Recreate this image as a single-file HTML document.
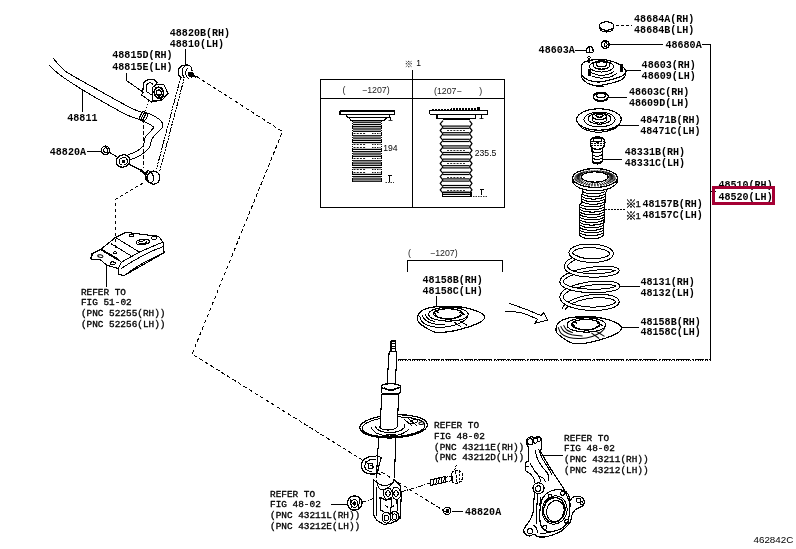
<!DOCTYPE html>
<html><head><meta charset="utf-8"><title>48520 front spring &amp; shock absorber</title>
<style>
html,body{margin:0;padding:0;background:#fff;}
body{width:796px;height:549px;overflow:hidden;}
svg{display:block;}
svg *{stroke:#000;}
text{stroke:none;fill:#000;}
.m{font-family:"Liberation Mono",monospace;font-weight:bold;font-size:10.8px;}
.r{font-family:"Liberation Mono",monospace;font-weight:normal;font-size:9.4px;stroke:#000;stroke-width:0.32px;}
.s8{font-family:"Liberation Sans","Noto Sans CJK JP",sans-serif;font-size:8.5px;}
.s8b{font-family:"Liberation Sans",sans-serif;font-size:8.6px;}
.s9{font-family:"Liberation Sans",sans-serif;font-size:8.8px;fill:#222;}
.s9k{font-family:"Liberation Sans","Noto Sans CJK JP",sans-serif;font-size:9.5px;}
.k10{font-family:"Liberation Sans","Noto Sans CJK JP",sans-serif;font-size:11px;stroke:#000;stroke-width:0.3px;}
.b1{font-family:"Liberation Sans",sans-serif;font-size:9.6px;stroke:#000;stroke-width:0.25px;}
.k9{font-family:"Liberation Sans","Noto Sans CJK JP",sans-serif;font-size:8.5px;}
.s10{font-family:"Liberation Sans",sans-serif;font-size:9.8px;}
</style></head>
<body>
<svg width="796" height="549" viewBox="0 0 796 549" fill="none" stroke-linecap="butt" stroke-linejoin="round" shape-rendering="crispEdges">
<rect x="0" y="0" width="796" height="549" fill="#fff" style="stroke:none"/>
<line x1="185.5" y1="48.5" x2="185.5" y2="65.0" stroke-width="1"/>
<path d="M126.5,73.0 L126.5,80.5 L144.3,93.0" stroke-width="1" fill="none"/>
<line x1="82.5" y1="90.0" x2="82.5" y2="111.5" stroke-width="1"/>
<line x1="86.6" y1="151.5" x2="101.5" y2="151.5" stroke-width="1"/>
<line x1="106.5" y1="266.0" x2="106.5" y2="286.7" stroke-width="1"/>
<line x1="615.5" y1="25.5" x2="632.0" y2="25.5" stroke-width="1" stroke-dasharray="3 2"/>
<line x1="609.0" y1="44.5" x2="663.0" y2="44.5" stroke-width="1"/>
<path d="M702.0,44.5 L710.5,44.5 L710.5,361.0" stroke-width="1" fill="none"/>
<line x1="575.0" y1="50.5" x2="586.0" y2="50.5" stroke-width="1"/>
<line x1="625.0" y1="70.5" x2="640.5" y2="70.5" stroke-width="1"/>
<line x1="608.5" y1="97.5" x2="626.7" y2="97.5" stroke-width="1"/>
<line x1="619.0" y1="125.5" x2="639.0" y2="125.5" stroke-width="1"/>
<line x1="602.5" y1="159.5" x2="622.0" y2="159.5" stroke-width="1"/>
<line x1="605.0" y1="209.5" x2="624.5" y2="209.5" stroke-width="1" stroke-dasharray="1.5 1.5"/>
<line x1="619.2" y1="286.5" x2="639.5" y2="286.5" stroke-width="1"/>
<line x1="621.4" y1="327.5" x2="639.0" y2="327.5" stroke-width="1"/>
<line x1="710.5" y1="191.5" x2="716.0" y2="191.5" stroke-width="1"/>
<line x1="397.5" y1="359.5" x2="710.5" y2="359.5" stroke-width="1" stroke-dasharray="9 1 3 1 14 2 2 1"/>
<line x1="397.5" y1="360.5" x2="708.0" y2="360.5" stroke-width="1" stroke-dasharray="1 1.4"/>
<line x1="436.5" y1="296.0" x2="436.5" y2="307.4" stroke-width="1"/>
<path d="M407.5,272.3 L407.5,260.5 L502.5,260.5 L502.5,272.3" stroke-width="1" fill="none"/>
<line x1="330.7" y1="504.5" x2="347.5" y2="504.5" stroke-width="1"/>
<line x1="452.0" y1="511.5" x2="463.0" y2="511.5" stroke-width="1"/>
<line x1="541.0" y1="455.5" x2="562.6" y2="455.5" stroke-width="1"/>
<rect x="320.5" y="79.5" width="184.0" height="128.0" stroke-width="1" fill="none"/>
<line x1="320.5" y1="98.5" x2="504.5" y2="98.5" stroke-width="1"/>
<line x1="412.5" y1="70.0" x2="412.5" y2="207.5" stroke-width="1"/>
<path d="M196.3,76.3 L282.5,131.6 L192.1,354.0 L446.8,512.6" stroke-width="1" fill="none" stroke-dasharray="4 2.5"/>
<line x1="143.5" y1="119.0" x2="143.5" y2="168.0" stroke-width="1" stroke-dasharray="3.5 2.5"/>
<path d="M143.5,182.8 L115.5,199.2 L115.5,250.0" stroke-width="1" fill="none" stroke-dasharray="3.5 2.5"/>
<line x1="149.0" y1="101.0" x2="145.0" y2="113.0" stroke-width="1" stroke-dasharray="1.5 1.5"/>
<path d="M53.0,58.0 C54.2,59.3 57.5,63.5 60.0,66.0 C62.5,68.5 61.3,68.8 68.0,73.0 C74.7,77.2 89.7,85.2 100.0,91.0 C110.3,96.8 123.2,104.0 130.0,107.5 C136.8,111.0 139.2,111.2 141.0,112.0" stroke-width="1" fill="none"/>
<path d="M49.0,65.0 C50.8,66.7 54.5,70.9 60.0,75.0 C65.5,79.1 74.5,84.8 82.0,89.5 C89.5,94.2 97.8,98.9 105.0,103.0 C112.2,107.1 119.3,111.2 125.0,114.0 C130.7,116.8 136.7,118.6 139.0,119.5" stroke-width="1" fill="none"/>
<ellipse cx="142.5" cy="116.0" rx="2.2" ry="4.6" stroke-width="1.3" fill="none" transform="rotate(25 142.5 116.0)"/>
<ellipse cx="144.5" cy="117.0" rx="2.2" ry="4.6" stroke-width="1" fill="none" transform="rotate(25 144.5 117.0)"/>
<path d="M146.0,112.5 C147.3,113.1 151.5,114.6 154.0,116.0 C156.5,117.4 159.6,119.2 161.0,121.0 C162.4,122.8 163.2,125.0 162.5,127.0 C161.8,129.0 158.8,131.0 157.0,133.0 C155.2,135.0 153.3,136.5 152.0,139.0 C150.7,141.5 150.8,145.3 149.0,148.0 C147.2,150.7 144.2,153.0 141.0,155.0 C137.8,157.0 131.8,159.2 130.0,160.0" stroke-width="1" fill="none"/>
<path d="M143.0,121.0 C144.2,121.6 148.2,123.4 150.0,124.5 C151.8,125.6 153.5,126.2 153.5,127.5 C153.5,128.8 151.3,130.4 150.0,132.0 C148.7,133.6 146.7,134.7 145.5,137.0 C144.3,139.3 144.4,143.7 143.0,146.0 C141.6,148.3 139.5,149.5 137.0,151.0 C134.5,152.5 129.5,154.3 128.0,155.0" stroke-width="1" fill="none"/>
<line x1="151.0" y1="130.5" x2="154.0" y2="127.0" stroke-width="1"/>
<ellipse cx="123.0" cy="161.0" rx="7.0" ry="6.0" stroke-width="1.3" fill="none" transform="rotate(-25 123.0 161.0)"/>
<ellipse cx="123.3" cy="161.3" rx="4.2" ry="3.6" stroke-width="1" fill="none" transform="rotate(-25 123.3 161.3)"/>
<ellipse cx="123.5" cy="161.5" rx="1.2" ry="1.0" stroke-width="1" fill="#000" transform="rotate(-25 123.5 161.5)"/>
<line x1="128.5" y1="164.0" x2="143.5" y2="171.5" stroke-width="1"/>
<ellipse cx="105.4" cy="150.3" rx="4.0" ry="4.2" stroke-width="1.3" fill="none"/>
<ellipse cx="105.8" cy="150.3" rx="2.0" ry="2.6" stroke-width="1" fill="none"/>
<line x1="109.0" y1="152.0" x2="117.0" y2="157.0" stroke-width="1"/>
<path d="M142.5,93.7 L143.8,82.3 L147.0,80.2 L151.7,79.2 L155.0,80.3 L157.0,82.3 L156.5,84.6" stroke-width="1.2" fill="none"/>
<path d="M146.3,91.5 C146.4,90.4 146.0,86.5 146.6,85.0 C147.2,83.5 148.7,82.9 149.8,82.8 C150.9,82.7 152.5,84.0 153.0,84.3" stroke-width="1" fill="none"/>
<path d="M152.6,87.5 L156.0,84.5 L164.0,84.9 L168.0,93.3 L162.3,99.9 L152.6,100.9 Z" stroke-width="1.2" fill="none"/>
<path d="M142.5,93.7 L141.2,94.8 L151.5,102.0 L162.3,99.9" stroke-width="1.1" fill="none"/>
<line x1="146.3" y1="91.5" x2="152.6" y2="95.5" stroke-width="1"/>
<ellipse cx="158.9" cy="92.8" rx="4.6" ry="5.6" stroke-width="1.7" fill="none" transform="rotate(-12 158.9 92.8)"/>
<ellipse cx="159.0" cy="93.0" rx="2.3" ry="3.0" stroke-width="1.3" fill="none" transform="rotate(-12 159.0 93.0)"/>
<ellipse cx="159.6" cy="95.3" rx="0.9" ry="0.9" stroke-width="1" fill="#000"/>
<path d="M184.5,65.3 C183.8,65.5 181.5,65.6 180.5,66.5 C179.5,67.4 178.6,69.1 178.3,70.5 C178.0,71.9 178.3,73.8 178.8,75.0 C179.3,76.2 181.1,77.3 181.5,77.8" stroke-width="1.3" fill="none"/>
<path d="M188.5,65.3 C187.8,65.5 185.5,65.5 184.5,66.3 C183.5,67.1 182.6,68.8 182.3,70.3 C182.0,71.8 182.4,73.7 182.8,75.0 C183.2,76.3 184.3,77.8 184.6,78.4" stroke-width="1.1" fill="none"/>
<path d="M184.5,65.3 C185.2,65.3 187.4,64.8 188.5,65.2 C189.6,65.6 190.7,66.5 191.3,67.5 C191.9,68.5 192.0,70.4 192.2,71.0" stroke-width="1.2" fill="none"/>
<path d="M187.5,68.5 C187.2,69.1 186.0,70.7 185.8,72.0 C185.6,73.3 186.0,75.4 186.5,76.5 C187.0,77.6 188.6,78.2 189.0,78.5" stroke-width="1" fill="none"/>
<ellipse cx="191.0" cy="74.6" rx="3.0" ry="2.3" stroke-width="1" fill="#000" transform="rotate(25 191.0 74.6)"/>
<line x1="192.5" y1="75.2" x2="196.6" y2="77.2" stroke-width="2"/>
<line x1="180.5" y1="78.0" x2="156.5" y2="169.0" stroke-width="1" stroke-dasharray="2.2 0.7"/>
<line x1="184.0" y1="79.0" x2="159.5" y2="172.0" stroke-width="1" stroke-dasharray="2.2 0.7"/>
<ellipse cx="153.6" cy="177.6" rx="6.2" ry="6.6" stroke-width="1.2" fill="none"/>
<ellipse cx="149.6" cy="176.6" rx="3.6" ry="6.0" stroke-width="1.1" fill="none" transform="rotate(-22 149.6 176.6)"/>
<path d="M147.5,171.5 C147.2,172.1 145.8,173.7 145.6,175.0 C145.4,176.3 145.8,178.2 146.4,179.5 C147.0,180.8 148.6,182.0 149.0,182.5" stroke-width="1.8" fill="none"/>
<line x1="140.8" y1="170.2" x2="146.0" y2="175.0" stroke-width="2.4"/>
<path d="M115.5,237.4 L125.7,232.3 L158.5,236.3 L163.0,242.0 L164.2,252.7 L124.6,275.3 L118.9,274.8 L118.4,268.5 L106.5,265.1 L100.8,260.0 L90.7,258.9 L92.9,253.3 L100.8,249.3 Z" stroke-width="1.1" fill="none"/>
<path d="M115.5,237.4 L139.3,252.1 L163.0,242.0" stroke-width="1" fill="none"/>
<path d="M139.3,252.1 L121.2,262.3" stroke-width="1" fill="none"/>
<line x1="111.0" y1="243.7" x2="132.5" y2="256.7" stroke-width="1"/>
<line x1="100.8" y1="249.3" x2="118.9" y2="260.0" stroke-width="2"/>
<path d="M118.9,260.0 L121.2,262.3 L118.4,268.5" stroke-width="1" fill="none"/>
<path d="M121.0,268.5 C123.3,267.1 130.2,262.8 135.0,260.0 C139.8,257.2 145.2,254.2 150.0,252.0 C154.8,249.8 161.2,247.4 163.5,246.5" stroke-width="1" fill="none"/>
<path d="M124.6,275.3 C126.8,273.8 133.4,268.8 138.0,266.0 C142.6,263.2 147.6,260.7 152.0,258.5 C156.4,256.3 162.2,253.7 164.2,252.7" stroke-width="1" fill="none"/>
<line x1="90.7" y1="258.9" x2="91.5" y2="253.5" stroke-width="1"/>
<ellipse cx="142.7" cy="242.0" rx="6.6" ry="2.5" stroke-width="1.2" fill="none" transform="rotate(-6 142.7 242.0)"/>
<ellipse cx="142.7" cy="242.2" rx="4.0" ry="1.2" stroke-width="1" fill="none" transform="rotate(-6 142.7 242.2)"/>
<ellipse cx="131.4" cy="235.7" rx="2.4" ry="1.1" stroke-width="1" fill="none"/>
<ellipse cx="154.0" cy="238.0" rx="2.6" ry="1.3" stroke-width="1" fill="none"/>
<ellipse cx="100.3" cy="256.1" rx="2.6" ry="1.3" stroke-width="1" fill="none" transform="rotate(10 100.3 256.1)"/>
<ellipse cx="112.7" cy="263.4" rx="2.6" ry="1.5" stroke-width="1" fill="none"/>
<ellipse cx="115.0" cy="252.7" rx="1.8" ry="1.0" stroke-width="1" fill="none"/>
<rect x="340.0" y="111.0" width="54.5" height="3.6" stroke-width="1.2" fill="none"/>
<path d="M346.0,114.6 L347.5,117.3 L389.0,117.3 L390.0,114.6" stroke-width="1.2" fill="none"/>
<path d="M348.5,117.3 L351.0,120.3 L384.0,120.3 L387.0,117.3" stroke-width="1.2" fill="none"/>
<g shape-rendering="geometricPrecision">
<line x1="353.0" y1="122.2" x2="381.0" y2="122.2" stroke-width="1.3"/>
<line x1="353.0" y1="124.5" x2="381.0" y2="124.5" stroke-width="1.3"/>
<line x1="353.0" y1="126.7" x2="381.0" y2="126.7" stroke-width="1.3"/>
<line x1="353.0" y1="129.0" x2="381.0" y2="129.0" stroke-width="1.3"/>
<line x1="353.0" y1="131.3" x2="381.0" y2="131.3" stroke-width="1.3"/>
<line x1="353.5" y1="133.5" x2="366.0" y2="133.5" stroke-width="0.9" stroke-dasharray="2 1.2"/>
<line x1="372.0" y1="133.5" x2="380.5" y2="133.5" stroke-width="0.9" stroke-dasharray="1.5 1"/>
<line x1="353.0" y1="135.8" x2="381.0" y2="135.8" stroke-width="1.3"/>
<line x1="353.0" y1="138.1" x2="381.0" y2="138.1" stroke-width="1.3"/>
<line x1="353.0" y1="140.4" x2="381.0" y2="140.4" stroke-width="1.3"/>
<line x1="353.0" y1="142.6" x2="381.0" y2="142.6" stroke-width="1.3"/>
<line x1="353.5" y1="144.5" x2="366.0" y2="144.5" stroke-width="0.9" stroke-dasharray="2 1.2"/>
<line x1="372.0" y1="144.5" x2="380.5" y2="144.5" stroke-width="0.9" stroke-dasharray="1.5 1"/>
<line x1="353.5" y1="147.5" x2="366.0" y2="147.5" stroke-width="0.9" stroke-dasharray="2 1.2"/>
<line x1="372.0" y1="147.5" x2="380.5" y2="147.5" stroke-width="0.9" stroke-dasharray="1.5 1"/>
<line x1="353.0" y1="149.4" x2="381.0" y2="149.4" stroke-width="1.3"/>
<line x1="353.0" y1="151.7" x2="381.0" y2="151.7" stroke-width="1.3"/>
<line x1="353.0" y1="154.0" x2="381.0" y2="154.0" stroke-width="1.3"/>
<line x1="353.0" y1="156.3" x2="381.0" y2="156.3" stroke-width="1.3"/>
<line x1="353.5" y1="158.5" x2="366.0" y2="158.5" stroke-width="0.9" stroke-dasharray="2 1.2"/>
<line x1="372.0" y1="158.5" x2="380.5" y2="158.5" stroke-width="0.9" stroke-dasharray="1.5 1"/>
<line x1="353.0" y1="160.8" x2="381.0" y2="160.8" stroke-width="1.3"/>
<line x1="353.0" y1="163.1" x2="381.0" y2="163.1" stroke-width="1.3"/>
<line x1="353.0" y1="165.3" x2="381.0" y2="165.3" stroke-width="1.3"/>
<line x1="353.0" y1="167.6" x2="381.0" y2="167.6" stroke-width="1.3"/>
<line x1="353.5" y1="169.5" x2="366.0" y2="169.5" stroke-width="0.9" stroke-dasharray="2 1.2"/>
<line x1="372.0" y1="169.5" x2="380.5" y2="169.5" stroke-width="0.9" stroke-dasharray="1.5 1"/>
<line x1="353.5" y1="172.5" x2="366.0" y2="172.5" stroke-width="0.9" stroke-dasharray="2 1.2"/>
<line x1="372.0" y1="172.5" x2="380.5" y2="172.5" stroke-width="0.9" stroke-dasharray="1.5 1"/>
<line x1="353.0" y1="174.4" x2="381.0" y2="174.4" stroke-width="1.3"/>
<line x1="353.0" y1="176.7" x2="381.0" y2="176.7" stroke-width="1.3"/>
<line x1="353.0" y1="179.0" x2="381.0" y2="179.0" stroke-width="1.3"/>
<line x1="353.0" y1="181.2" x2="381.0" y2="181.2" stroke-width="1.3"/>
</g>
<line x1="352.5" y1="120.5" x2="352.5" y2="183.0" stroke-width="1" stroke-dasharray="1.6 0.7"/>
<line x1="381.5" y1="120.5" x2="381.5" y2="183.0" stroke-width="1" stroke-dasharray="1.6 0.7"/>
<line x1="390.5" y1="117.0" x2="390.5" y2="120.0" stroke-width="1.6"/>
<line x1="388.5" y1="120.5" x2="392.5" y2="120.5" stroke-width="0.8"/>
<line x1="389.5" y1="175.5" x2="389.5" y2="181.5" stroke-width="1.6"/>
<line x1="387.5" y1="175.5" x2="391.5" y2="175.5" stroke-width="1"/>
<line x1="385.5" y1="182.5" x2="394.0" y2="182.5" stroke-width="0.8" stroke-dasharray="1.5 1"/>
<path d="M429.5,114.4 L429.5,110.5 L487.4,110.5 L487.4,114.4 L429.5,114.4" stroke-width="1.2" fill="none"/>
<line x1="432.0" y1="109.5" x2="478.0" y2="108.8" stroke-width="1.4" stroke-dasharray="2.2 0.8"/>
<rect x="437.0" y="114.4" width="38.6" height="4.0" stroke-width="1.2" fill="none"/>
<line x1="443.0" y1="119.4" x2="470.0" y2="119.4" stroke-width="1.6"/>
<g shape-rendering="geometricPrecision">
<path d="M443.0,120.6 L440.2,123.9 L443.0,127.2" stroke-width="1.25" fill="none"/>
<path d="M469.5,120.6 L472.0,123.9 L469.5,127.2" stroke-width="1.25" fill="none"/>
<line x1="443.0" y1="126.1" x2="469.5" y2="126.1" stroke-width="1.2"/>
<line x1="443.0" y1="128.3" x2="469.5" y2="128.3" stroke-width="1.2"/>
<path d="M443.0,127.2 L440.2,130.5 L443.0,133.8" stroke-width="1.25" fill="none"/>
<path d="M469.5,127.2 L472.0,130.5 L469.5,133.8" stroke-width="1.25" fill="none"/>
<line x1="443.0" y1="132.7" x2="469.5" y2="132.7" stroke-width="1.2"/>
<line x1="443.0" y1="134.9" x2="469.5" y2="134.9" stroke-width="1.2"/>
<line x1="447.0" y1="130.5" x2="466.0" y2="130.5" stroke-width="0.8" stroke-dasharray="2 1.2"/>
<path d="M443.0,133.8 L440.2,137.1 L443.0,140.4" stroke-width="1.25" fill="none"/>
<path d="M469.5,133.8 L472.0,137.1 L469.5,140.4" stroke-width="1.25" fill="none"/>
<line x1="443.0" y1="139.3" x2="469.5" y2="139.3" stroke-width="1.2"/>
<line x1="443.0" y1="141.5" x2="469.5" y2="141.5" stroke-width="1.2"/>
<path d="M443.0,140.4 L440.2,143.7 L443.0,147.0" stroke-width="1.25" fill="none"/>
<path d="M469.5,140.4 L472.0,143.7 L469.5,147.0" stroke-width="1.25" fill="none"/>
<line x1="443.0" y1="145.9" x2="469.5" y2="145.9" stroke-width="1.2"/>
<line x1="443.0" y1="148.1" x2="469.5" y2="148.1" stroke-width="1.2"/>
<path d="M443.0,147.0 L440.2,150.3 L443.0,153.6" stroke-width="1.25" fill="none"/>
<path d="M469.5,147.0 L472.0,150.3 L469.5,153.6" stroke-width="1.25" fill="none"/>
<line x1="443.0" y1="152.5" x2="469.5" y2="152.5" stroke-width="1.2"/>
<line x1="443.0" y1="154.7" x2="469.5" y2="154.7" stroke-width="1.2"/>
<line x1="447.0" y1="150.5" x2="466.0" y2="150.5" stroke-width="0.8" stroke-dasharray="2 1.2"/>
<path d="M443.0,153.6 L440.2,156.9 L443.0,160.2" stroke-width="1.25" fill="none"/>
<path d="M469.5,153.6 L472.0,156.9 L469.5,160.2" stroke-width="1.25" fill="none"/>
<line x1="443.0" y1="159.1" x2="469.5" y2="159.1" stroke-width="1.2"/>
<line x1="443.0" y1="161.3" x2="469.5" y2="161.3" stroke-width="1.2"/>
<path d="M443.0,160.2 L440.2,163.5 L443.0,166.8" stroke-width="1.25" fill="none"/>
<path d="M469.5,160.2 L472.0,163.5 L469.5,166.8" stroke-width="1.25" fill="none"/>
<line x1="443.0" y1="165.7" x2="469.5" y2="165.7" stroke-width="1.2"/>
<line x1="443.0" y1="167.9" x2="469.5" y2="167.9" stroke-width="1.2"/>
<line x1="447.0" y1="163.5" x2="466.0" y2="163.5" stroke-width="0.8" stroke-dasharray="2 1.2"/>
<path d="M443.0,166.8 L440.2,170.1 L443.0,173.4" stroke-width="1.25" fill="none"/>
<path d="M469.5,166.8 L472.0,170.1 L469.5,173.4" stroke-width="1.25" fill="none"/>
<line x1="443.0" y1="172.3" x2="469.5" y2="172.3" stroke-width="1.2"/>
<line x1="443.0" y1="174.5" x2="469.5" y2="174.5" stroke-width="1.2"/>
<path d="M443.0,173.4 L440.2,176.7 L443.0,180.0" stroke-width="1.25" fill="none"/>
<path d="M469.5,173.4 L472.0,176.7 L469.5,180.0" stroke-width="1.25" fill="none"/>
<line x1="443.0" y1="178.9" x2="469.5" y2="178.9" stroke-width="1.2"/>
<line x1="443.0" y1="181.1" x2="469.5" y2="181.1" stroke-width="1.2"/>
<line x1="447.0" y1="177.5" x2="466.0" y2="177.5" stroke-width="0.8" stroke-dasharray="2 1.2"/>
<path d="M443.0,180.0 L440.2,183.3 L443.0,186.6" stroke-width="1.25" fill="none"/>
<path d="M469.5,180.0 L472.0,183.3 L469.5,186.6" stroke-width="1.25" fill="none"/>
<line x1="443.0" y1="185.5" x2="469.5" y2="185.5" stroke-width="1.2"/>
<line x1="443.0" y1="187.7" x2="469.5" y2="187.7" stroke-width="1.2"/>
<path d="M443.0,186.6 L440.2,189.9 L443.0,193.2" stroke-width="1.25" fill="none"/>
<path d="M469.5,186.6 L472.0,189.9 L469.5,193.2" stroke-width="1.25" fill="none"/>
<line x1="443.0" y1="192.1" x2="469.5" y2="192.1" stroke-width="1.2"/>
<line x1="443.0" y1="194.3" x2="469.5" y2="194.3" stroke-width="1.2"/>
<line x1="447.0" y1="190.5" x2="466.0" y2="190.5" stroke-width="0.8" stroke-dasharray="2 1.2"/>
</g>
<rect x="442.4" y="192.2" width="28.5" height="4.4" stroke-width="1.2" fill="none"/>
<line x1="442.4" y1="194.5" x2="470.9" y2="194.5" stroke-width="1"/>
<line x1="481.5" y1="114.5" x2="481.5" y2="118.5" stroke-width="1.6"/>
<line x1="479.5" y1="118.5" x2="483.5" y2="118.5" stroke-width="0.8"/>
<line x1="481.5" y1="189.5" x2="481.5" y2="195.0" stroke-width="1.6"/>
<line x1="479.5" y1="189.5" x2="483.5" y2="189.5" stroke-width="1"/>
<line x1="473.0" y1="196.5" x2="487.0" y2="196.5" stroke-width="0.8" stroke-dasharray="1.5 1"/>
<ellipse cx="478.5" cy="108.3" rx="1.1" ry="1.1" stroke-width="1" fill="#000"/>
<ellipse cx="606.6" cy="26.0" rx="7.3" ry="4.2" stroke-width="1.1" fill="none"/>
<path d="M599.5,27.0 C599.8,27.6 599.8,29.7 601.0,30.5 C602.2,31.3 604.8,32.0 606.6,32.0 C608.4,32.0 610.8,31.3 612.0,30.5 C613.2,29.7 613.5,27.6 613.8,27.0" stroke-width="1.1" fill="none"/>
<ellipse cx="605.3" cy="44.6" rx="3.8" ry="3.8" stroke-width="1.5" fill="none"/>
<ellipse cx="605.6" cy="44.6" rx="1.6" ry="2.0" stroke-width="1" fill="none"/>
<path d="M586.5,52.5 C586.5,51.8 586.2,49.5 586.8,48.5 C587.3,47.5 588.8,46.5 589.8,46.5 C590.8,46.5 592.2,47.5 592.8,48.5 C593.4,49.5 593.1,51.8 593.2,52.5" stroke-width="1.3" fill="none"/>
<line x1="586.5" y1="52.8" x2="593.2" y2="52.8" stroke-width="1.2"/>
<line x1="589.5" y1="47.0" x2="589.5" y2="52.0" stroke-width="1"/>
<path d="M581.5,68.0 C581.7,66.0 581.2,64.3 583.0,63.0 C584.8,61.7 588.7,60.6 592.0,60.0 C595.3,59.4 599.3,59.2 603.0,59.5 C606.7,59.8 610.7,60.8 614.0,62.0 C617.3,63.2 621.0,65.3 623.0,67.0 C625.0,68.7 626.2,70.5 626.0,72.0 C625.8,73.5 624.7,74.7 622.0,76.0 C619.3,77.3 614.0,79.0 610.0,80.0 C606.0,81.0 601.7,82.0 598.0,82.0 C594.3,82.0 590.7,81.2 588.0,80.0 C585.3,78.8 583.1,77.0 582.0,75.0 C580.9,73.0 581.3,70.0 581.5,68.0 Z" stroke-width="1.2" fill="none"/>
<path d="M581.5,70.0 C581.6,71.3 580.9,75.8 582.0,78.0 C583.1,80.2 585.3,82.2 588.0,83.5 C590.7,84.8 594.3,85.5 598.0,85.5 C601.7,85.5 606.0,84.5 610.0,83.5 C614.0,82.5 619.3,81.1 622.0,79.5 C624.7,77.9 625.3,74.9 626.0,74.0" stroke-width="1.1" fill="none"/>
<ellipse cx="601.5" cy="66.5" rx="12.0" ry="5.5" stroke-width="1" fill="none"/>
<ellipse cx="601.5" cy="65.0" rx="8.5" ry="4.2" stroke-width="1.2" fill="none"/>
<ellipse cx="601.5" cy="64.2" rx="5.2" ry="2.4" stroke-width="1.3" fill="none"/>
<path d="M590.0,72.0 C591.3,72.5 595.0,74.6 598.0,75.0 C601.0,75.4 605.3,75.1 608.0,74.5 C610.7,73.9 613.0,72.0 614.0,71.5" stroke-width="1" fill="none"/>
<path d="M592.0,76.0 C593.3,76.3 597.0,77.8 600.0,78.0 C603.0,78.2 607.2,77.8 610.0,77.0 C612.8,76.2 615.8,74.1 617.0,73.5" stroke-width="1" fill="none"/>
<line x1="589.0" y1="57.8" x2="589.0" y2="62.5" stroke-width="2.4"/>
<ellipse cx="589.0" cy="57.6" rx="1.3" ry="1.1" stroke-width="1" fill="none"/>
<line x1="589.5" y1="69.0" x2="589.5" y2="76.0" stroke-width="2.2"/>
<line x1="621.6" y1="66.0" x2="621.6" y2="72.0" stroke-width="2.4"/>
<ellipse cx="621.6" cy="65.6" rx="1.4" ry="1.1" stroke-width="1" fill="none"/>
<line x1="596.0" y1="86.5" x2="604.0" y2="86.5" stroke-width="1"/>
<ellipse cx="600.8" cy="96.3" rx="7.6" ry="4.2" stroke-width="1.1" fill="none"/>
<ellipse cx="600.8" cy="97.3" rx="7.6" ry="4.2" stroke-width="1" fill="none"/>
<ellipse cx="601.0" cy="95.6" rx="4.4" ry="2.2" stroke-width="1.2" fill="none"/>
<ellipse cx="599.0" cy="119.5" rx="22.3" ry="10.7" stroke-width="1.2" fill="none"/>
<path d="M576.8,121.0 C577.7,122.2 579.5,126.2 582.0,128.0 C584.5,129.8 588.3,131.0 592.0,131.6 C595.7,132.2 600.2,132.3 604.0,131.8 C607.8,131.3 612.1,130.2 615.0,128.5 C617.9,126.8 620.2,122.7 621.2,121.5" stroke-width="1" fill="none"/>
<ellipse cx="599.5" cy="119.5" rx="15.6" ry="7.4" stroke-width="1" fill="none"/>
<ellipse cx="599.5" cy="118.6" rx="11.5" ry="5.6" stroke-width="1" fill="none"/>
<ellipse cx="599.5" cy="116.3" rx="7.0" ry="3.3" stroke-width="1.3" fill="none"/>
<ellipse cx="599.5" cy="115.6" rx="3.6" ry="1.6" stroke-width="1.2" fill="none"/>
<path d="M592.5,117.0 C592.6,117.7 591.8,120.0 593.0,121.0 C594.2,122.0 597.3,123.0 599.5,123.0 C601.7,123.0 604.8,122.0 606.0,121.0 C607.2,120.0 606.4,117.7 606.5,117.0" stroke-width="1" fill="none"/>
<line x1="596.0" y1="108.6" x2="602.0" y2="108.6" stroke-width="1.4"/>
<line x1="580.0" y1="126.0" x2="590.0" y2="130.5" stroke-width="1.5" stroke-dasharray="1.5 1.5"/>
<line x1="607.0" y1="131.0" x2="616.0" y2="127.0" stroke-width="1.5" stroke-dasharray="1.5 1.5"/>
<path d="M590.5,146.0 C590.5,145.2 590.0,142.4 590.3,141.0 C590.6,139.6 591.3,138.5 592.5,137.8 C593.7,137.1 595.8,137.0 597.5,137.0 C599.2,137.0 601.3,137.1 602.5,137.8 C603.7,138.5 604.4,139.6 604.8,141.0 C605.1,142.4 604.6,145.2 604.6,146.0" stroke-width="1.3" fill="none"/>
<ellipse cx="597.5" cy="140.0" rx="4.5" ry="2.0" stroke-width="1.2" fill="none"/>
<line x1="591.0" y1="141.5" x2="604.5" y2="141.5" stroke-width="1" stroke-dasharray="2 1"/>
<line x1="591.0" y1="143.5" x2="604.5" y2="143.5" stroke-width="1" stroke-dasharray="2 1"/>
<line x1="591.0" y1="145.5" x2="604.5" y2="145.5" stroke-width="1" stroke-dasharray="2 1"/>
<path d="M590.5,146.0 C590.9,146.4 591.8,147.9 593.0,148.5 C594.2,149.1 596.0,149.3 597.5,149.3 C599.0,149.3 600.8,149.1 602.0,148.5 C603.2,147.9 604.2,146.4 604.6,146.0" stroke-width="1.3" fill="none"/>
<path d="M592.0,148.3 L592.4,162.0" stroke-width="1.2" fill="none"/>
<path d="M602.6,148.3 L602.2,162.0" stroke-width="1.2" fill="none"/>
<path d="M592.2,151.0 C592.6,151.3 593.6,152.3 594.5,152.6 C595.4,152.9 596.4,153.0 597.4,153.0 C598.4,153.0 599.5,152.9 600.3,152.6 C601.1,152.3 602.0,151.3 602.4,151.0" stroke-width="1" fill="none"/>
<path d="M592.2,154.2 C592.6,154.5 593.6,155.5 594.5,155.8 C595.4,156.1 596.4,156.2 597.4,156.2 C598.4,156.2 599.5,156.1 600.3,155.8 C601.1,155.5 602.0,154.5 602.4,154.2" stroke-width="1" fill="none"/>
<path d="M592.2,157.4 C592.6,157.7 593.6,158.7 594.5,159.0 C595.4,159.3 596.4,159.4 597.4,159.4 C598.4,159.4 599.5,159.3 600.3,159.0 C601.1,158.7 602.0,157.7 602.4,157.4" stroke-width="1" fill="none"/>
<path d="M592.2,160.6 C592.6,160.9 593.6,161.9 594.5,162.2 C595.4,162.5 596.4,162.6 597.4,162.6 C598.4,162.6 599.5,162.5 600.3,162.2 C601.1,161.9 602.0,160.9 602.4,160.6" stroke-width="1" fill="none"/>
<path d="M592.4,162.0 C592.8,162.3 593.7,163.3 594.5,163.6 C595.3,163.9 596.4,164.0 597.4,164.0 C598.4,164.0 599.5,163.9 600.3,163.6 C601.1,163.3 601.9,162.3 602.2,162.0" stroke-width="1.1" fill="none"/>
<ellipse cx="595.0" cy="178.0" rx="22.3" ry="9.4" stroke-width="1.3" fill="none"/>
<ellipse cx="594.8" cy="177.0" rx="13.4" ry="5.2" stroke-width="1.2" fill="none"/>
<path d="M572.7,179.0 C572.8,179.8 572.3,182.0 573.5,183.5 C574.7,185.0 577.2,187.0 580.0,188.2 C582.8,189.4 586.7,190.2 590.0,190.6 C593.3,191.0 596.7,191.0 600.0,190.6 C603.3,190.2 607.2,189.4 610.0,188.2 C612.8,187.0 615.3,185.0 616.5,183.5 C617.7,182.0 617.2,179.8 617.3,179.0" stroke-width="1.2" fill="none"/>
<line x1="609.4" y1="177.0" x2="615.8" y2="178.4" stroke-width="0.9"/>
<line x1="609.2" y1="177.9" x2="615.5" y2="179.7" stroke-width="0.9"/>
<line x1="608.7" y1="178.8" x2="614.8" y2="180.9" stroke-width="0.9"/>
<line x1="607.8" y1="179.7" x2="613.5" y2="182.1" stroke-width="0.9"/>
<line x1="606.6" y1="180.5" x2="611.8" y2="183.2" stroke-width="0.9"/>
<line x1="605.1" y1="181.2" x2="609.7" y2="184.2" stroke-width="0.9"/>
<line x1="603.4" y1="181.8" x2="607.2" y2="185.0" stroke-width="0.9"/>
<line x1="601.4" y1="182.3" x2="604.4" y2="185.7" stroke-width="0.9"/>
<line x1="599.3" y1="182.6" x2="601.4" y2="186.2" stroke-width="0.9"/>
<line x1="597.1" y1="182.8" x2="598.3" y2="186.5" stroke-width="0.9"/>
<line x1="594.8" y1="182.9" x2="595.0" y2="186.6" stroke-width="0.9"/>
<line x1="592.5" y1="182.8" x2="591.7" y2="186.5" stroke-width="0.9"/>
<line x1="590.3" y1="182.6" x2="588.6" y2="186.2" stroke-width="0.9"/>
<line x1="588.2" y1="182.3" x2="585.6" y2="185.7" stroke-width="0.9"/>
<line x1="586.2" y1="181.8" x2="582.8" y2="185.0" stroke-width="0.9"/>
<line x1="584.5" y1="181.2" x2="580.3" y2="184.2" stroke-width="0.9"/>
<line x1="583.0" y1="180.5" x2="578.2" y2="183.2" stroke-width="0.9"/>
<line x1="581.8" y1="179.7" x2="576.5" y2="182.1" stroke-width="0.9"/>
<line x1="580.9" y1="178.8" x2="575.2" y2="180.9" stroke-width="0.9"/>
<line x1="580.4" y1="177.9" x2="574.5" y2="179.7" stroke-width="0.9"/>
<line x1="580.2" y1="177.0" x2="574.2" y2="178.4" stroke-width="0.9"/>
<line x1="580.4" y1="176.1" x2="574.5" y2="177.1" stroke-width="0.9"/>
<line x1="580.9" y1="175.2" x2="575.2" y2="175.9" stroke-width="0.9"/>
<line x1="581.8" y1="174.3" x2="576.5" y2="174.7" stroke-width="0.9"/>
<line x1="583.0" y1="173.5" x2="578.2" y2="173.6" stroke-width="0.9"/>
<line x1="584.5" y1="172.8" x2="580.3" y2="172.6" stroke-width="0.9"/>
<line x1="586.2" y1="172.2" x2="582.8" y2="171.8" stroke-width="0.9"/>
<line x1="588.2" y1="171.7" x2="585.6" y2="171.1" stroke-width="0.9"/>
<line x1="590.3" y1="171.4" x2="588.6" y2="170.6" stroke-width="0.9"/>
<line x1="592.5" y1="171.2" x2="591.7" y2="170.3" stroke-width="0.9"/>
<line x1="594.8" y1="171.1" x2="595.0" y2="170.2" stroke-width="0.9"/>
<line x1="597.1" y1="171.2" x2="598.3" y2="170.3" stroke-width="0.9"/>
<line x1="599.3" y1="171.4" x2="601.4" y2="170.6" stroke-width="0.9"/>
<line x1="601.4" y1="171.7" x2="604.4" y2="171.1" stroke-width="0.9"/>
<line x1="603.4" y1="172.2" x2="607.2" y2="171.8" stroke-width="0.9"/>
<line x1="605.1" y1="172.8" x2="609.7" y2="172.6" stroke-width="0.9"/>
<line x1="606.6" y1="173.5" x2="611.8" y2="173.6" stroke-width="0.9"/>
<line x1="607.8" y1="174.3" x2="613.5" y2="174.7" stroke-width="0.9"/>
<line x1="608.7" y1="175.2" x2="614.8" y2="175.9" stroke-width="0.9"/>
<line x1="609.2" y1="176.1" x2="615.5" y2="177.1" stroke-width="0.9"/>
<ellipse cx="595.0" cy="178.0" rx="17.5" ry="7.0" stroke-width="0.8" fill="none" stroke-dasharray="2 1.2"/>
<path d="M583.0,190.0 L581.8,195.0 L581.7,203.0 L579.6,205.0 L579.6,235.5" stroke-width="1.1" fill="none"/>
<path d="M606.3,190.0 L605.2,197.0 L604.6,212.0 L603.2,235.5" stroke-width="1.1" fill="none"/>
<path d="M581.8,191.3 C582.6,191.6 584.8,192.9 586.8,193.3 C588.8,193.7 591.3,193.9 593.6,193.9 C595.9,193.9 598.4,193.7 600.4,193.3 C602.3,192.9 604.5,191.6 605.4,191.3" stroke-width="1.05" fill="none"/>
<path d="M581.8,193.9 C582.6,194.2 584.8,195.5 586.8,195.9 C588.8,196.3 591.3,196.5 593.5,196.5 C595.8,196.5 598.3,196.3 600.2,195.9 C602.2,195.5 604.4,194.2 605.2,193.9" stroke-width="1.05" fill="none"/>
<path d="M581.8,196.5 C582.6,196.8 584.9,198.1 586.8,198.5 C588.7,198.9 591.2,199.1 593.5,199.1 C595.7,199.1 598.2,198.9 600.1,198.5 C602.1,198.1 604.3,196.8 605.1,196.5" stroke-width="1.05" fill="none"/>
<path d="M581.8,199.1 C582.6,199.4 584.9,200.7 586.8,201.1 C588.7,201.5 591.2,201.7 593.4,201.7 C595.6,201.7 598.1,201.5 600.0,201.1 C601.9,200.7 604.2,199.4 605.0,199.1" stroke-width="1.05" fill="none"/>
<path d="M581.8,201.7 C582.6,202.0 584.9,203.3 586.8,203.7 C588.7,204.1 591.2,204.3 593.3,204.3 C595.5,204.3 597.9,204.1 599.9,203.7 C601.8,203.3 604.0,202.0 604.9,201.7" stroke-width="1.05" fill="none"/>
<path d="M579.7,204.3 C580.5,204.6 582.6,205.9 584.7,206.3 C586.8,206.7 589.7,206.9 592.2,206.9 C594.7,206.9 597.6,206.7 599.7,206.3 C601.8,205.9 603.9,204.6 604.7,204.3" stroke-width="1.05" fill="none"/>
<path d="M579.7,206.9 C580.5,207.2 582.6,208.5 584.7,208.9 C586.8,209.3 589.7,209.5 592.1,209.5 C594.6,209.5 597.5,209.3 599.6,208.9 C601.7,208.5 603.8,207.2 604.6,206.9" stroke-width="1.05" fill="none"/>
<path d="M579.7,209.5 C580.5,209.8 582.6,211.1 584.7,211.5 C586.8,211.9 589.6,212.1 592.1,212.1 C594.5,212.1 597.4,211.9 599.5,211.5 C601.5,211.1 603.6,209.8 604.5,209.5" stroke-width="1.05" fill="none"/>
<path d="M579.7,212.1 C580.5,212.4 582.6,213.7 584.7,214.1 C586.8,214.5 589.6,214.7 592.0,214.7 C594.5,214.7 597.3,214.5 599.3,214.1 C601.4,213.7 603.5,212.4 604.3,212.1" stroke-width="1.05" fill="none"/>
<path d="M579.7,214.7 C580.5,215.0 582.7,216.3 584.7,216.7 C586.7,217.1 589.5,217.3 592.0,217.3 C594.4,217.3 597.2,217.1 599.2,216.7 C601.2,216.3 603.4,215.0 604.2,214.7" stroke-width="1.05" fill="none"/>
<path d="M579.7,217.3 C580.5,217.6 582.7,218.9 584.7,219.3 C586.7,219.7 589.5,219.9 591.9,219.9 C594.3,219.9 597.0,219.7 599.1,219.3 C601.1,218.9 603.2,217.6 604.1,217.3" stroke-width="1.05" fill="none"/>
<path d="M579.7,219.9 C580.5,220.2 582.7,221.5 584.7,221.9 C586.7,222.3 589.4,222.5 591.8,222.5 C594.2,222.5 596.9,222.3 598.9,221.9 C601.0,221.5 603.1,220.2 603.9,219.9" stroke-width="1.05" fill="none"/>
<path d="M579.7,222.5 C580.5,222.8 582.7,224.1 584.7,224.5 C586.7,224.9 589.4,225.1 591.8,225.1 C594.1,225.1 596.8,224.9 598.8,224.5 C600.8,224.1 603.0,222.8 603.8,222.5" stroke-width="1.05" fill="none"/>
<path d="M579.7,225.1 C580.5,225.4 582.7,226.7 584.7,227.1 C586.7,227.5 589.4,227.7 591.7,227.7 C594.0,227.7 596.7,227.5 598.7,227.1 C600.7,226.7 602.9,225.4 603.7,225.1" stroke-width="1.05" fill="none"/>
<path d="M579.7,227.7 C580.5,228.0 582.7,229.3 584.7,229.7 C586.7,230.1 589.3,230.3 591.6,230.3 C593.9,230.3 596.6,230.1 598.6,229.7 C600.5,229.3 602.7,228.0 603.6,227.7" stroke-width="1.05" fill="none"/>
<path d="M579.7,230.3 C580.5,230.6 582.7,231.9 584.7,232.3 C586.7,232.7 589.3,232.9 591.6,232.9 C593.9,232.9 596.4,232.7 598.4,232.3 C600.4,231.9 602.6,230.6 603.4,230.3" stroke-width="1.05" fill="none"/>
<path d="M579.7,232.9 C580.5,233.2 582.7,234.5 584.7,234.9 C586.7,235.3 589.2,235.5 591.5,235.5 C593.8,235.5 596.3,235.3 598.3,234.9 C600.3,234.5 602.5,233.2 603.3,232.9" stroke-width="1.05" fill="none"/>
<path d="M579.6,235.5 C580.3,235.9 582.0,237.4 584.0,238.0 C586.0,238.6 589.0,238.8 591.5,238.8 C594.0,238.8 597.0,238.6 599.0,238.0 C601.0,237.4 602.5,235.9 603.2,235.5" stroke-width="1.2" fill="none"/>
<path d="M617.3,270.9 L617.4,270.5 L617.3,270.2 L617.0,269.8 L616.5,269.5 L615.9,269.2 L615.1,268.9 L614.1,268.7 L613.0,268.5 L611.7,268.3 L610.2,268.1 L608.7,268.0 L606.9,268.0 L605.1,268.0 L603.2,268.0 L601.1,268.1 L599.0,268.2 L596.8,268.3 L594.6,268.6 L592.3,268.8 L590.0,269.1 L587.7,269.5 L585.4,269.9 L583.2,270.3 L581.0,270.8 L578.8,271.3 L576.8,271.9 L574.8,272.5 L572.9,273.1 L571.1,273.8 L569.5,274.5 L567.9,275.2 L566.6,275.9 L565.4,276.7 L564.3,277.4 L563.4,278.2 L562.7,279.0 L562.1,279.8 L561.8,280.5 L561.6,281.3 L561.6,282.1" stroke-width="4.4" fill="none" stroke-linecap="butt"/>
<path d="M617.3,270.9 L617.4,270.5 L617.3,270.2 L617.0,269.8 L616.5,269.5 L615.9,269.2 L615.1,268.9 L614.1,268.7 L613.0,268.5 L611.7,268.3 L610.2,268.1 L608.7,268.0 L606.9,268.0 L605.1,268.0 L603.2,268.0 L601.1,268.1 L599.0,268.2 L596.8,268.3 L594.6,268.6 L592.3,268.8 L590.0,269.1 L587.7,269.5 L585.4,269.9 L583.2,270.3 L581.0,270.8 L578.8,271.3 L576.8,271.9 L574.8,272.5 L572.9,273.1 L571.1,273.8 L569.5,274.5 L567.9,275.2 L566.6,275.9 L565.4,276.7 L564.3,277.4 L563.4,278.2 L562.7,279.0 L562.1,279.8 L561.8,280.5 L561.6,281.3 L561.6,282.1" stroke-width="2.4" fill="none" style="stroke:#fff" stroke-linecap="butt"/>
<path d="M618.0,286.4 L618.0,286.0 L617.8,285.6 L617.5,285.2 L616.9,284.8 L616.2,284.5 L615.4,284.1 L614.3,283.8 L613.1,283.6 L611.7,283.3 L610.2,283.1 L608.6,282.9 L606.8,282.8 L605.0,282.7 L603.0,282.7 L600.9,282.7 L598.8,282.8 L596.6,282.9 L594.4,283.1 L592.1,283.3 L589.8,283.5 L587.5,283.9 L585.2,284.2 L583.0,284.7 L580.8,285.2 L578.7,285.7 L576.6,286.3 L574.6,286.9 L572.8,287.6 L571.0,288.3 L569.4,289.0 L567.9,289.8 L566.5,290.6 L565.3,291.4 L564.2,292.3 L563.4,293.2 L562.7,294.0 L562.1,294.9 L561.8,295.8 L561.6,296.8 L561.6,297.7" stroke-width="4.4" fill="none" stroke-linecap="butt"/>
<path d="M618.0,286.4 L618.0,286.0 L617.8,285.6 L617.5,285.2 L616.9,284.8 L616.2,284.5 L615.4,284.1 L614.3,283.8 L613.1,283.6 L611.7,283.3 L610.2,283.1 L608.6,282.9 L606.8,282.8 L605.0,282.7 L603.0,282.7 L600.9,282.7 L598.8,282.8 L596.6,282.9 L594.4,283.1 L592.1,283.3 L589.8,283.5 L587.5,283.9 L585.2,284.2 L583.0,284.7 L580.8,285.2 L578.7,285.7 L576.6,286.3 L574.6,286.9 L572.8,287.6 L571.0,288.3 L569.4,289.0 L567.9,289.8 L566.5,290.6 L565.3,291.4 L564.2,292.3 L563.4,293.2 L562.7,294.0 L562.1,294.9 L561.8,295.8 L561.6,296.8 L561.6,297.7" stroke-width="2.4" fill="none" style="stroke:#fff" stroke-linecap="butt"/>
<path d="M617.4,302.0 L617.4,301.5 L617.3,300.9 L617.0,300.4 L616.5,299.9 L616.0,299.4 L615.2,298.9 L614.4,298.5 L613.4,298.0 L612.3,297.6 L611.1,297.3 L609.7,297.0 L608.3,296.7 L606.7,296.4 L605.1,296.3 L603.4,296.1 L601.6,296.0 L599.7,296.0 L597.8,296.0 L595.9,296.1 L593.9,296.2 L591.9,296.4 L589.9,296.6 L587.9,296.9 L585.9,297.3 L583.9,297.7 L582.0,298.2 L580.1,298.7 L578.2,299.2 L576.5,299.9 L574.8,300.5 L573.2,301.2 L571.6,302.0 L570.2,302.8 L568.9,303.6 L567.7,304.5 L566.6,305.4 L565.7,306.3 L564.8,307.3 L564.1,308.2 L563.6,309.2" stroke-width="4.4" fill="none" stroke-linecap="butt"/>
<path d="M617.4,302.0 L617.4,301.5 L617.3,300.9 L617.0,300.4 L616.5,299.9 L616.0,299.4 L615.2,298.9 L614.4,298.5 L613.4,298.0 L612.3,297.6 L611.1,297.3 L609.7,297.0 L608.3,296.7 L606.7,296.4 L605.1,296.3 L603.4,296.1 L601.6,296.0 L599.7,296.0 L597.8,296.0 L595.9,296.1 L593.9,296.2 L591.9,296.4 L589.9,296.6 L587.9,296.9 L585.9,297.3 L583.9,297.7 L582.0,298.2 L580.1,298.7 L578.2,299.2 L576.5,299.9 L574.8,300.5 L573.2,301.2 L571.6,302.0 L570.2,302.8 L568.9,303.6 L567.7,304.5 L566.6,305.4 L565.7,306.3 L564.8,307.3 L564.1,308.2 L563.6,309.2" stroke-width="2.4" fill="none" style="stroke:#fff" stroke-linecap="butt"/>
<path d="M561.6,296.5 L561.6,297.4 L561.8,298.3 L562.2,299.2 L562.7,300.1 L563.4,300.9 L564.3,301.8 L565.4,302.6 L566.6,303.3 L568.0,304.0 L569.5,304.7 L571.1,305.4 L572.9,305.9 L574.8,306.5 L576.7,307.0 L578.8,307.4 L580.9,307.8 L583.1,308.1 L585.3,308.3 L587.5,308.5 L589.8,308.7 L592.1,308.7 L594.3,308.7 L596.5,308.7 L598.7,308.6 L600.8,308.4 L602.8,308.2 L604.7,307.9 L606.6,307.6 L608.3,307.2 L609.9,306.8 L611.4,306.4 L612.7,305.9 L613.9,305.4 L614.9,304.8 L615.7,304.3 L616.4,303.7 L616.9,303.1 L617.2,302.5 L617.4,301.9 L617.4,301.3" stroke-width="4.4" fill="none" stroke-linecap="butt"/>
<path d="M561.6,296.5 L561.6,297.4 L561.8,298.3 L562.2,299.2 L562.7,300.1 L563.4,300.9 L564.3,301.8 L565.4,302.6 L566.6,303.3 L568.0,304.0 L569.5,304.7 L571.1,305.4 L572.9,305.9 L574.8,306.5 L576.7,307.0 L578.8,307.4 L580.9,307.8 L583.1,308.1 L585.3,308.3 L587.5,308.5 L589.8,308.7 L592.1,308.7 L594.3,308.7 L596.5,308.7 L598.7,308.6 L600.8,308.4 L602.8,308.2 L604.7,307.9 L606.6,307.6 L608.3,307.2 L609.9,306.8 L611.4,306.4 L612.7,305.9 L613.9,305.4 L614.9,304.8 L615.7,304.3 L616.4,303.7 L616.9,303.1 L617.2,302.5 L617.4,301.9 L617.4,301.3" stroke-width="2.4" fill="none" style="stroke:#fff" stroke-linecap="butt"/>
<path d="M561.6,281.1 L561.6,281.9 L561.8,282.6 L562.1,283.4 L562.7,284.1 L563.4,284.8 L564.2,285.5 L565.3,286.1 L566.5,286.7 L567.9,287.3 L569.4,287.9 L571.0,288.4 L572.8,288.8 L574.6,289.2 L576.6,289.6 L578.7,289.9 L580.8,290.2 L583.0,290.5 L585.2,290.6 L587.5,290.8 L589.8,290.9 L592.1,290.9 L594.4,290.9 L596.6,290.9 L598.8,290.8 L600.9,290.7 L603.0,290.6 L605.0,290.4 L606.8,290.2 L608.6,289.9 L610.2,289.7 L611.7,289.4 L613.1,289.0 L614.3,288.7 L615.4,288.3 L616.2,287.9 L616.9,287.5 L617.5,287.1 L617.8,286.7 L618.0,286.3 L618.0,285.9" stroke-width="4.4" fill="none" stroke-linecap="butt"/>
<path d="M561.6,281.1 L561.6,281.9 L561.8,282.6 L562.1,283.4 L562.7,284.1 L563.4,284.8 L564.2,285.5 L565.3,286.1 L566.5,286.7 L567.9,287.3 L569.4,287.9 L571.0,288.4 L572.8,288.8 L574.6,289.2 L576.6,289.6 L578.7,289.9 L580.8,290.2 L583.0,290.5 L585.2,290.6 L587.5,290.8 L589.8,290.9 L592.1,290.9 L594.4,290.9 L596.6,290.9 L598.8,290.8 L600.9,290.7 L603.0,290.6 L605.0,290.4 L606.8,290.2 L608.6,289.9 L610.2,289.7 L611.7,289.4 L613.1,289.0 L614.3,288.7 L615.4,288.3 L616.2,287.9 L616.9,287.5 L617.5,287.1 L617.8,286.7 L618.0,286.3 L618.0,285.9" stroke-width="2.4" fill="none" style="stroke:#fff" stroke-linecap="butt"/>
<path d="M578.8,256.6 L576.7,257.4 L574.6,258.3 L572.8,259.2 L571.1,260.2 L569.7,261.1 L568.4,262.1 L567.4,263.1 L566.7,264.2 L566.2,265.2 L566.0,266.2 L566.1,267.2 L566.4,268.2 L567.1,269.1 L567.9,270.0 L569.1,270.8 L570.5,271.6 L572.1,272.3 L574.0,273.0 L576.0,273.5 L578.3,274.1 L580.6,274.5 L583.2,274.8 L585.8,275.1 L588.5,275.3 L591.2,275.4 L593.9,275.4 L596.6,275.4 L599.3,275.3 L601.9,275.1 L604.3,274.8 L606.6,274.5 L608.8,274.2 L610.8,273.8 L612.5,273.3 L614.0,272.9 L615.2,272.4 L616.2,271.9 L616.9,271.4 L617.3,270.9 L617.4,270.4" stroke-width="4.4" fill="none" stroke-linecap="butt"/>
<path d="M578.8,256.6 L576.7,257.4 L574.6,258.3 L572.8,259.2 L571.1,260.2 L569.7,261.1 L568.4,262.1 L567.4,263.1 L566.7,264.2 L566.2,265.2 L566.0,266.2 L566.1,267.2 L566.4,268.2 L567.1,269.1 L567.9,270.0 L569.1,270.8 L570.5,271.6 L572.1,272.3 L574.0,273.0 L576.0,273.5 L578.3,274.1 L580.6,274.5 L583.2,274.8 L585.8,275.1 L588.5,275.3 L591.2,275.4 L593.9,275.4 L596.6,275.4 L599.3,275.3 L601.9,275.1 L604.3,274.8 L606.6,274.5 L608.8,274.2 L610.8,273.8 L612.5,273.3 L614.0,272.9 L615.2,272.4 L616.2,271.9 L616.9,271.4 L617.3,270.9 L617.4,270.4" stroke-width="2.4" fill="none" style="stroke:#fff" stroke-linecap="butt"/>
<path d="M611.4,253.8 L611.3,254.6 L611.0,255.3 L610.4,256.1 L609.6,256.8 L608.7,257.4 L607.5,258.0 L606.2,258.6 L604.7,259.1 L603.0,259.5 L601.2,259.9 L599.4,260.2 L597.4,260.4 L595.3,260.6 L593.2,260.6 L591.1,260.6 L589.0,260.5 L586.9,260.3 L584.8,260.1 L582.8,259.7 L581.0,259.3 L579.2,258.8 L577.5,258.3 L576.0,257.7 L574.7,257.1 L573.5,256.4 L572.6,255.7 L571.8,254.9 L571.2,254.2 L570.9,253.4 L570.8,252.6 L570.9,251.8 L571.2,251.1 L571.8,250.3 L572.6,249.6 L573.5,249.0 L574.7,248.4 L576.0,247.8 L577.5,247.3 L579.2,246.9 L581.0,246.5 L582.8,246.2 L584.8,246.0 L586.9,245.8 L589.0,245.8 L591.1,245.8 L593.2,245.9 L595.3,246.1 L597.4,246.3 L599.4,246.7 L601.2,247.1 L603.0,247.6 L604.7,248.1 L606.2,248.7 L607.5,249.3 L608.7,250.0 L609.6,250.7 L610.4,251.5 L611.0,252.2 L611.3,253.0 L611.4,253.8" stroke-width="4.6" fill="none" stroke-linecap="butt"/>
<path d="M611.4,253.8 L611.3,254.6 L611.0,255.3 L610.4,256.1 L609.6,256.8 L608.7,257.4 L607.5,258.0 L606.2,258.6 L604.7,259.1 L603.0,259.5 L601.2,259.9 L599.4,260.2 L597.4,260.4 L595.3,260.6 L593.2,260.6 L591.1,260.6 L589.0,260.5 L586.9,260.3 L584.8,260.1 L582.8,259.7 L581.0,259.3 L579.2,258.8 L577.5,258.3 L576.0,257.7 L574.7,257.1 L573.5,256.4 L572.6,255.7 L571.8,254.9 L571.2,254.2 L570.9,253.4 L570.8,252.6 L570.9,251.8 L571.2,251.1 L571.8,250.3 L572.6,249.6 L573.5,249.0 L574.7,248.4 L576.0,247.8 L577.5,247.3 L579.2,246.9 L581.0,246.5 L582.8,246.2 L584.8,246.0 L586.9,245.8 L589.0,245.8 L591.1,245.8 L593.2,245.9 L595.3,246.1 L597.4,246.3 L599.4,246.7 L601.2,247.1 L603.0,247.6 L604.7,248.1 L606.2,248.7 L607.5,249.3 L608.7,250.0 L609.6,250.7 L610.4,251.5 L611.0,252.2 L611.3,253.0 L611.4,253.8" stroke-width="2.6" fill="none" style="stroke:#fff" stroke-linecap="butt"/>
<g transform="translate(588.4 329.2) scale(0.975 1.03) translate(-588.4 -329.2)">
<path d="M555.1,328.5 C555.4,326.8 556.2,324.5 558.0,322.9 C559.8,321.3 562.3,319.8 565.9,318.9 C569.5,317.9 574.6,317.4 579.5,317.2 C584.4,316.9 590.4,316.9 595.3,317.4 C600.2,317.9 604.8,318.9 608.8,320.0 C612.8,321.1 616.7,322.6 619.0,324.0 C621.3,325.4 622.4,327.1 622.4,328.5 C622.4,329.9 621.3,331.1 619.0,332.5 C616.7,333.9 612.8,335.6 608.8,337.0 C604.8,338.4 599.2,339.9 595.3,340.9 C591.3,341.9 588.8,342.4 585.1,342.8 C581.4,343.2 576.7,343.8 572.9,343.0 C569.1,342.2 565.2,339.5 562.4,337.8 C559.6,336.1 557.5,334.6 556.3,333.0 C555.1,331.4 554.8,330.2 555.1,328.5 Z" stroke-width="1.2" fill="none"/>
<path d="M557.4,327.2 C557.9,328.2 558.6,331.5 560.4,333.2 C562.2,334.9 565.1,336.4 568.4,337.2 C571.7,338.0 576.4,338.4 580.4,338.2 C584.4,338.0 589.1,337.1 592.4,336.2 C595.7,335.3 598.2,334.0 600.4,332.7 C602.6,331.4 604.6,328.9 605.4,328.2" stroke-width="1" fill="none"/>
<path d="M559.9,326.2 C560.5,327.0 561.5,329.8 563.4,331.2 C565.3,332.6 568.2,333.9 571.4,334.7 C574.6,335.4 580.6,335.5 582.4,335.7" stroke-width="1" fill="none"/>
<path d="M562.9,325.2 C563.4,325.9 564.3,328.4 565.9,329.7 C567.5,330.9 571.3,332.2 572.4,332.7" stroke-width="1" fill="none"/>
<ellipse cx="586.2" cy="325.1" rx="19.8" ry="7.0" stroke-width="1.1" fill="none"/>
<ellipse cx="585.8" cy="324.6" rx="14.5" ry="5.0" stroke-width="1.2" fill="none"/>
<line x1="576.4" y1="317.8" x2="598.4" y2="318.0" stroke-width="1.8"/>
<path d="M572.4,324.2 C573.1,324.9 574.2,327.4 576.4,328.4 C578.6,329.4 582.6,329.9 585.4,330.0 C588.2,330.1 591.1,329.7 593.4,329.0 C595.6,328.3 598.0,326.2 598.9,325.6" stroke-width="1.3" fill="none"/>
<line x1="591.4" y1="332.7" x2="599.4" y2="338.2" stroke-width="1"/>
<line x1="596.4" y1="331.2" x2="604.9" y2="336.2" stroke-width="1"/>
<line x1="597.4" y1="323.2" x2="602.9" y2="325.7" stroke-width="1.4"/>
<line x1="573.4" y1="321.7" x2="576.9" y2="323.7" stroke-width="1.4"/>
</g>
<g transform="translate(450.6 318.3) scale(1 1) translate(-450.6 -318.3)">
<path d="M417.3,317.6 C417.6,315.9 418.4,313.6 420.2,312.0 C422.0,310.4 424.5,308.9 428.1,308.0 C431.7,307.1 436.8,306.6 441.7,306.3 C446.6,306.1 452.6,306.0 457.5,306.5 C462.4,307.0 467.1,308.0 471.0,309.1 C474.9,310.2 478.9,311.7 481.2,313.1 C483.5,314.5 484.6,316.2 484.6,317.6 C484.6,319.0 483.5,320.2 481.2,321.6 C478.9,323.0 474.9,324.7 471.0,326.1 C467.1,327.5 461.4,329.0 457.5,330.0 C453.6,331.0 451.0,331.6 447.3,331.9 C443.6,332.3 438.9,332.9 435.1,332.1 C431.3,331.3 427.4,328.6 424.6,326.9 C421.8,325.2 419.7,323.7 418.5,322.1 C417.3,320.6 417.0,319.3 417.3,317.6 Z" stroke-width="1.2" fill="none"/>
<path d="M419.6,316.3 C420.1,317.3 420.8,320.6 422.6,322.3 C424.4,324.0 427.3,325.5 430.6,326.3 C433.9,327.1 438.6,327.5 442.6,327.3 C446.6,327.1 451.3,326.2 454.6,325.3 C457.9,324.4 460.4,323.1 462.6,321.8 C464.8,320.5 466.8,318.1 467.6,317.3" stroke-width="1" fill="none"/>
<path d="M422.1,315.3 C422.7,316.1 423.7,318.9 425.6,320.3 C427.5,321.7 430.4,323.1 433.6,323.8 C436.8,324.6 442.8,324.6 444.6,324.8" stroke-width="1" fill="none"/>
<path d="M425.1,314.3 C425.6,315.1 426.5,317.6 428.1,318.8 C429.7,320.1 433.5,321.3 434.6,321.8" stroke-width="1" fill="none"/>
<ellipse cx="448.4" cy="314.2" rx="19.8" ry="7.0" stroke-width="1.1" fill="none"/>
<ellipse cx="448.0" cy="313.7" rx="14.5" ry="5.0" stroke-width="1.2" fill="none"/>
<line x1="438.6" y1="306.9" x2="460.6" y2="307.1" stroke-width="1.8"/>
<path d="M434.6,313.3 C435.3,314.0 436.4,316.5 438.6,317.5 C440.8,318.5 444.8,319.0 447.6,319.1 C450.4,319.2 453.4,318.8 455.6,318.1 C457.9,317.4 460.2,315.3 461.1,314.7" stroke-width="1.3" fill="none"/>
<line x1="453.6" y1="321.8" x2="461.6" y2="327.3" stroke-width="1"/>
<line x1="458.6" y1="320.3" x2="467.1" y2="325.3" stroke-width="1"/>
<line x1="459.6" y1="312.3" x2="465.1" y2="314.8" stroke-width="1.4"/>
<line x1="435.6" y1="310.8" x2="439.1" y2="312.8" stroke-width="1.4"/>
</g>
<path d="M508.7,303.3 C511.4,304.2 519.6,307.0 525.0,309.0 C530.4,311.0 538.3,314.4 541.0,315.5" stroke-width="1" fill="none"/>
<path d="M505.3,311.2 C508.1,311.5 516.6,311.6 522.0,313.0 C527.4,314.4 534.9,318.2 537.5,319.3" stroke-width="1" fill="none"/>
<path d="M541.0,315.5 L543.8,312.6 L547.6,320.0 L534.6,323.4 L537.5,319.3" stroke-width="1" fill="none"/>
<rect x="391.0" y="341.0" width="4.8" height="10.2" stroke-width="1.1" fill="none"/>
<line x1="391.0" y1="343.5" x2="395.8" y2="343.5" stroke-width="1.1"/>
<line x1="391.0" y1="346.5" x2="395.8" y2="346.5" stroke-width="1.1"/>
<line x1="391.0" y1="348.5" x2="395.8" y2="348.5" stroke-width="1.1"/>
<path d="M389.2,351.2 L387.0,384.5" stroke-width="1.1" fill="none"/>
<path d="M396.8,351.2 L395.4,384.5" stroke-width="1.1" fill="none"/>
<line x1="389.2" y1="351.5" x2="396.8" y2="351.5" stroke-width="1.1"/>
<ellipse cx="390.8" cy="386.5" rx="9.6" ry="2.8" stroke-width="1.2" fill="none"/>
<path d="M381.3,387.0 C381.3,387.9 380.7,391.1 381.5,392.5 C382.3,393.9 384.4,394.8 386.0,395.3 C387.6,395.9 389.3,395.8 391.0,395.8 C392.7,395.8 394.5,395.9 396.0,395.3 C397.5,394.8 399.5,393.9 400.2,392.5 C400.9,391.1 400.4,387.9 400.4,387.0" stroke-width="1.2" fill="none"/>
<path d="M384.0,387.5 C384.5,387.9 385.8,389.3 387.0,389.8 C388.2,390.3 389.7,390.3 391.0,390.3 C392.3,390.3 393.9,390.3 395.0,389.8 C396.1,389.3 397.3,387.9 397.8,387.5" stroke-width="1" fill="none"/>
<ellipse cx="393.6" cy="426.3" rx="33.9" ry="11.5" stroke-width="1.3" fill="none" transform="rotate(-3 393.6 426.3)"/>
<ellipse cx="393.6" cy="426.8" rx="31.5" ry="9.8" stroke-width="1" fill="none" transform="rotate(-3 393.6 426.8)"/>
<path d="M375.0,426.0 C375.7,426.8 376.8,429.4 379.0,430.5 C381.2,431.6 385.3,432.4 388.5,432.6 C391.7,432.8 395.4,432.3 398.0,431.5 C400.6,430.7 402.9,429.2 404.0,428.0 C405.1,426.8 404.4,424.7 404.5,424.0" stroke-width="1.1" fill="none"/>
<path d="M371.0,427.5 C372.0,428.5 374.0,432.1 377.0,433.5 C380.0,434.9 385.0,435.9 389.0,436.0 C393.0,436.1 397.7,435.3 401.0,434.2 C404.3,433.1 407.7,430.3 409.0,429.5" stroke-width="1" fill="none"/>
<ellipse cx="414.0" cy="421.5" rx="4.2" ry="1.8" stroke-width="1" fill="none" transform="rotate(-18 414.0 421.5)"/>
<ellipse cx="421.5" cy="423.2" rx="2.6" ry="1.3" stroke-width="1" fill="none" transform="rotate(-10 421.5 423.2)"/>
<line x1="404.0" y1="419.0" x2="412.0" y2="426.0" stroke-width="1"/>
<line x1="408.0" y1="418.0" x2="417.0" y2="426.0" stroke-width="1"/>
<line x1="386.0" y1="434.5" x2="396.0" y2="434.3" stroke-width="1.6"/>
<path d="M381.8,394 L380,427.5 C383,431 394,431 397.4,426.5 L398.6,394 Z" stroke-width="1.1" fill="#fff"/>
<path d="M378.6,438.5 L376.3,478.0" stroke-width="1.1" fill="none"/>
<path d="M395.7,437.5 L394.5,478.0" stroke-width="1.1" fill="none"/>
<path d="M376.0,456.5 C374.7,456.6 370.2,456.2 368.0,457.0 C365.8,457.8 363.6,459.8 362.5,461.5 C361.4,463.2 361.2,465.2 361.5,467.0 C361.8,468.8 362.9,470.8 364.5,472.0 C366.1,473.2 368.8,473.8 371.0,474.0 C373.2,474.2 376.8,473.6 378.0,473.5" stroke-width="1.3" fill="none"/>
<path d="M376.0,459.5 C374.9,459.6 371.2,459.3 369.5,460.0 C367.8,460.7 366.2,462.2 365.5,463.5 C364.8,464.8 364.7,466.3 365.0,467.5 C365.3,468.7 366.2,469.8 367.5,470.5 C368.8,471.2 371.7,471.3 372.5,471.5" stroke-width="1" fill="none"/>
<ellipse cx="370.5" cy="466.0" rx="2.3" ry="2.8" stroke-width="1.1" fill="none"/>
<path d="M376.0,455.5 L381.3,457.5 L380.0,462.0 L377.0,473.5 L381.0,474.5" stroke-width="1.2" fill="none"/>
<line x1="377.5" y1="452.0" x2="377.5" y2="458.0" stroke-width="1"/>
<path d="M373.2,479.0 L373.5,515.0 L377.0,520.5 L384.0,524.5 L392.0,523.0 L400.0,518.5 L401.2,497.0 L400.5,486.0 L394.5,480.0" stroke-width="1.2" fill="none"/>
<path d="M373.2,479.0 C374.0,479.8 375.9,482.4 378.0,483.5 C380.1,484.6 383.3,485.7 386.0,485.5 C388.7,485.3 392.7,483.0 394.0,482.5" stroke-width="1.1" fill="none"/>
<path d="M376.0,480.5 C376.7,481.9 378.0,487.8 380.0,489.0 C382.0,490.2 385.6,489.5 388.0,488.0 C390.4,486.5 393.4,481.3 394.5,480.0" stroke-width="1" fill="none"/>
<path d="M376.5,487.0 L377.0,516.0" stroke-width="1" fill="none"/>
<path d="M380.0,497.0 L380.5,510.0 L385.0,512.5" stroke-width="1.1" fill="none"/>
<path d="M380.0,497.0 L386.0,500.5 L391.0,497.5" stroke-width="1.1" fill="none"/>
<path d="M392.0,499.0 L390.5,512.0 L393.0,514.0" stroke-width="1.1" fill="none"/>
<ellipse cx="388.0" cy="493.5" rx="2.2" ry="2.9" stroke-width="1" fill="none"/>
<ellipse cx="396.0" cy="493.5" rx="2.2" ry="2.9" stroke-width="1" fill="none"/>
<ellipse cx="386.2" cy="518.0" rx="2.2" ry="2.9" stroke-width="1" fill="none"/>
<ellipse cx="394.4" cy="516.8" rx="2.2" ry="2.9" stroke-width="1" fill="none"/>
<line x1="397.2" y1="500.0" x2="397.5" y2="511.0" stroke-width="1.6"/>
<path d="M384.0,490.0 C384.6,488.5 386.8,487.9 388.0,488.0 C389.2,488.1 390.8,489.0 391.5,490.5 C392.2,492.0 392.6,495.4 392.0,497.0 C391.4,498.6 389.3,500.0 388.0,500.0 C386.7,500.0 385.0,498.7 384.3,497.0 C383.6,495.3 383.4,491.5 384.0,490.0 Z" stroke-width="1" fill="none"/>
<path d="M392.5,489.5 C393.0,487.9 394.8,487.4 396.0,487.5 C397.2,487.6 399.1,488.4 399.8,490.0 C400.5,491.6 400.6,495.4 400.0,497.0 C399.4,498.6 397.7,499.5 396.5,499.5 C395.3,499.5 393.7,498.7 393.0,497.0 C392.3,495.3 392.0,491.1 392.5,489.5 Z" stroke-width="1" fill="none"/>
<path d="M382.5,515.0 C383.0,513.7 384.8,512.6 386.0,512.5 C387.2,512.4 389.3,513.1 390.0,514.5 C390.7,515.9 390.7,519.6 390.0,521.0 C389.3,522.4 387.2,523.1 386.0,523.0 C384.8,522.9 383.4,521.8 382.8,520.5 C382.2,519.2 382.0,516.3 382.5,515.0 Z" stroke-width="1" fill="none"/>
<path d="M391.0,513.5 C391.6,512.2 393.3,511.5 394.5,511.5 C395.7,511.5 397.4,512.2 398.0,513.5 C398.6,514.8 398.8,518.2 398.3,519.5 C397.8,520.8 396.2,521.5 395.0,521.5 C393.8,521.5 391.9,520.8 391.2,519.5 C390.5,518.2 390.4,514.8 391.0,513.5 Z" stroke-width="1" fill="none"/>
<line x1="385.0" y1="505.0" x2="388.0" y2="507.5" stroke-width="1"/>
<line x1="391.0" y1="508.0" x2="394.0" y2="505.5" stroke-width="1"/>
<path d="M348.0,500.0 C348.5,498.5 349.7,497.4 351.0,496.8 C352.3,496.2 354.4,495.9 356.0,496.2 C357.6,496.5 359.5,497.4 360.5,498.5 C361.5,499.6 362.0,501.5 362.0,503.0 C362.0,504.5 361.5,506.3 360.5,507.5 C359.5,508.7 357.6,509.7 356.0,510.0 C354.4,510.3 352.3,510.0 351.0,509.3 C349.7,508.6 348.5,507.6 348.0,506.0 C347.5,504.4 347.5,501.5 348.0,500.0 Z" stroke-width="1.3" fill="none"/>
<ellipse cx="354.3" cy="503.5" rx="3.4" ry="3.8" stroke-width="1.1" fill="none"/>
<ellipse cx="354.3" cy="503.5" rx="1.4" ry="1.6" stroke-width="1" fill="#000"/>
<line x1="350.0" y1="499.0" x2="351.5" y2="508.0" stroke-width="1"/>
<line x1="359.5" y1="499.0" x2="358.5" y2="508.5" stroke-width="1"/>
<line x1="362.5" y1="502.0" x2="373.0" y2="498.8" stroke-width="1" stroke-dasharray="4 1.5 1 1.5"/>
<path d="M430.8,485.4 L430.6,479.8 L445.6,476.4 L446.0,482.0 Z" stroke-width="1" fill="none"/>
<line x1="433.2" y1="484.9" x2="434.1" y2="479.3" stroke-width="1"/>
<line x1="435.8" y1="484.3" x2="436.7" y2="478.7" stroke-width="1"/>
<line x1="438.4" y1="483.7" x2="439.3" y2="478.1" stroke-width="1"/>
<line x1="441.0" y1="483.2" x2="441.9" y2="477.6" stroke-width="1"/>
<line x1="443.6" y1="482.6" x2="444.5" y2="477.0" stroke-width="1"/>
<path d="M446.0,477.3 L451.5,476.0 L452.0,480.6 L446.3,481.6" stroke-width="1" fill="none" stroke-dasharray="2.5 1"/>
<path d="M451.6,472.6 C452.2,472.3 454.1,471.1 455.5,470.8 C456.9,470.5 458.9,470.4 460.0,471.0 C461.1,471.6 462.0,472.9 462.4,474.2 C462.8,475.5 462.6,477.7 462.2,479.0 C461.8,480.3 461.1,481.5 460.0,482.2 C458.9,482.9 457.0,483.2 455.8,483.2 C454.6,483.2 453.1,482.2 452.6,482.0" stroke-width="1.1" fill="none" stroke-dasharray="3 1"/>
<line x1="451.6" y1="472.6" x2="452.6" y2="482.0" stroke-width="1"/>
<line x1="455.8" y1="471.2" x2="456.6" y2="483.0" stroke-width="1" stroke-dasharray="3 1"/>
<line x1="459.6" y1="471.2" x2="460.0" y2="482.2" stroke-width="1" stroke-dasharray="2 1.2"/>
<line x1="456.5" y1="465.0" x2="454.5" y2="470.5" stroke-width="1" stroke-dasharray="2 1.5"/>
<line x1="401.0" y1="492.0" x2="430.5" y2="483.0" stroke-width="1" stroke-dasharray="5 1.5 1 1.5"/>
<ellipse cx="447.2" cy="510.8" rx="3.7" ry="3.7" stroke-width="1.2" fill="none"/>
<ellipse cx="447.6" cy="510.9" rx="1.4" ry="1.7" stroke-width="1" fill="#000"/>
<path d="M528.7,447.5 C528.4,446.8 526.8,444.5 526.6,443.0 C526.4,441.5 526.7,439.5 527.5,438.5 C528.3,437.5 530.2,436.9 531.5,436.8 C532.8,436.7 533.9,437.6 535.0,437.6 C536.1,437.6 537.0,436.5 538.0,436.6 C539.0,436.8 540.7,437.4 541.3,438.5 C541.9,439.6 541.9,440.8 541.8,443.0 C541.7,445.2 540.9,450.4 540.7,451.9" stroke-width="1.2" fill="none"/>
<ellipse cx="530.2" cy="441.8" rx="2.6" ry="3.2" stroke-width="1.1" fill="none"/>
<ellipse cx="535.4" cy="440.6" rx="2.0" ry="2.6" stroke-width="1" fill="none"/>
<ellipse cx="538.8" cy="439.6" rx="1.6" ry="2.2" stroke-width="1" fill="none"/>
<path d="M540.7,451.9 C541.6,453.4 543.8,457.3 546.0,461.0 C548.2,464.7 551.1,469.5 554.0,474.0 C556.9,478.5 560.5,483.2 563.1,487.9 C565.7,492.5 568.5,499.6 569.6,501.9" stroke-width="1.2" fill="none"/>
<path d="M535.2,449.7 C535.6,451.2 536.2,455.9 537.5,459.0 C538.8,462.1 541.3,465.6 543.0,468.0 C544.7,470.4 546.8,471.5 547.8,473.7 C548.8,475.9 548.7,480.1 548.9,481.4" stroke-width="1" fill="none"/>
<path d="M538.5,448.6 C539.0,450.0 540.0,453.9 541.5,457.0 C543.0,460.1 546.0,464.2 547.8,467.2 C549.5,470.2 551.3,473.7 552.0,475.0" stroke-width="1" fill="none"/>
<path d="M528.7,447.5 L528.7,461.7 L525.4,462.2 L525.4,470.4 L531.4,474.8" stroke-width="1.1" fill="none"/>
<line x1="525.4" y1="466.0" x2="529.0" y2="466.3" stroke-width="1"/>
<path d="M530.0,463.0 C530.7,464.2 532.6,467.8 534.0,470.0 C535.4,472.2 537.3,474.1 538.5,476.0 C539.7,477.9 540.6,480.5 541.0,481.4" stroke-width="1" fill="none"/>
<path d="M531.4,474.8 C531.8,475.5 533.4,477.6 534.0,479.0 C534.6,480.4 534.8,482.3 535.0,483.0" stroke-width="1" fill="none"/>
<path d="M536.0,472.0 C536.5,472.7 537.8,475.0 539.0,476.0 C540.2,477.0 541.9,477.0 543.0,478.0 C544.1,479.0 545.1,481.3 545.5,482.0" stroke-width="1" fill="none"/>
<ellipse cx="538.5" cy="488.2" rx="5.6" ry="5.4" stroke-width="1.2" fill="none"/>
<ellipse cx="538.2" cy="488.6" rx="2.6" ry="2.8" stroke-width="1.1" fill="none"/>
<path d="M546.0,494.0 C547.5,492.5 549.2,491.7 551.0,491.0 C552.8,490.3 554.9,489.7 557.0,489.6 C559.1,489.5 561.7,489.8 563.5,490.5 C565.3,491.2 567.0,492.2 568.0,494.0 C569.0,495.8 569.5,498.0 569.8,501.0 C570.1,504.0 569.9,508.7 569.6,512.0 C569.3,515.3 569.1,518.4 568.0,521.0 C566.9,523.6 565.2,525.8 563.0,527.5 C560.8,529.2 557.6,530.3 555.0,531.0 C552.4,531.7 549.6,531.9 547.5,531.5 C545.4,531.1 543.8,530.2 542.5,528.5 C541.2,526.8 540.4,524.1 540.0,521.0 C539.6,517.9 539.7,513.5 540.0,510.0 C540.3,506.5 540.8,502.7 541.8,500.0 C542.8,497.3 544.5,495.5 546.0,494.0 Z" stroke-width="1.2" fill="none"/>
<ellipse cx="554.6" cy="510.0" rx="12.4" ry="14.2" stroke-width="1" fill="none" transform="rotate(14 554.6 510.0)"/>
<ellipse cx="554.3" cy="510.0" rx="10.6" ry="12.4" stroke-width="1.3" fill="none" transform="rotate(14 554.3 510.0)"/>
<ellipse cx="555.3" cy="511.0" rx="8.6" ry="10.6" stroke-width="1" fill="none" transform="rotate(14 555.3 511.0)"/>
<ellipse cx="550.0" cy="496.4" rx="1.9" ry="2.1" stroke-width="1.1" fill="none"/>
<ellipse cx="562.5" cy="493.3" rx="1.9" ry="2.1" stroke-width="1.1" fill="none"/>
<ellipse cx="566.7" cy="521.5" rx="1.9" ry="2.1" stroke-width="1.1" fill="none"/>
<ellipse cx="544.7" cy="527.3" rx="1.9" ry="2.1" stroke-width="1.1" fill="none"/>
<path d="M534.7,493.1 C534.5,494.8 533.9,499.7 533.6,503.0 C533.3,506.3 533.6,510.0 533.0,512.8 C532.4,515.6 531.2,517.8 530.0,520.0 C528.8,522.2 526.6,524.9 525.9,525.9" stroke-width="1.2" fill="none"/>
<path d="M538.0,493.8 C537.8,495.5 537.2,500.6 537.0,504.0 C536.8,507.4 536.6,510.7 536.5,514.0 C536.4,517.3 536.5,522.3 536.5,524.0" stroke-width="1.1" fill="none"/>
<path d="M541.0,497.0 C540.8,498.5 539.8,504.5 539.5,506.0" stroke-width="1" fill="none"/>
<path d="M525.9,525.9 C525.5,526.6 523.8,528.6 523.7,530.0 C523.6,531.4 524.5,533.5 525.5,534.5 C526.5,535.5 528.6,536.1 530.0,536.0 C531.4,535.9 532.9,533.9 534.0,534.0 C535.1,534.1 536.4,536.3 536.9,536.8" stroke-width="1.2" fill="none"/>
<ellipse cx="530.0" cy="531.2" rx="2.6" ry="2.5" stroke-width="1.1" fill="none"/>
<path d="M533.5,525.0 C534.0,525.5 535.8,526.7 536.5,528.0 C537.2,529.3 537.3,532.2 537.5,533.0" stroke-width="1" fill="none"/>
<path d="M536.9,536.8 C538.2,536.8 541.8,537.3 544.5,537.0 C547.2,536.7 550.3,535.7 553.0,534.8 C555.7,533.9 558.6,532.9 560.9,531.4 C563.2,529.9 565.4,527.6 567.0,526.0 C568.6,524.4 570.1,522.2 570.7,521.5" stroke-width="1.2" fill="none"/>
<path d="M540.5,534.0 C541.8,533.8 545.4,533.1 548.0,532.6 C550.6,532.1 554.7,531.1 556.0,530.8" stroke-width="1" fill="none"/>
<path d="M569.6,501.9 C570.0,501.2 571.0,498.9 572.0,498.0 C573.0,497.1 574.1,496.5 575.5,496.3 C576.9,496.1 579.1,496.0 580.5,496.6 C581.9,497.2 583.4,498.6 583.9,500.0 C584.4,501.4 584.1,503.7 583.4,505.0 C582.7,506.3 580.9,506.8 579.5,507.6 C578.1,508.4 576.2,508.8 575.0,510.0 C573.8,511.2 572.7,513.1 572.0,515.0 C571.3,516.9 570.9,520.4 570.7,521.5" stroke-width="1.2" fill="none"/>
<ellipse cx="578.6" cy="500.4" rx="2.2" ry="2.3" stroke-width="1.1" fill="none"/>
<ellipse cx="581.6" cy="503.2" rx="1.5" ry="1.7" stroke-width="1" fill="none"/>
<g style="filter:grayscale(1)">
<text x="169.8" y="35.8" class="m" textLength="60.3" lengthAdjust="spacingAndGlyphs">48820B(RH)</text>
<text x="169.8" y="47.0" class="m" textLength="54.3" lengthAdjust="spacingAndGlyphs">48810(LH)</text>
<text x="112.3" y="58.3" class="m" textLength="60.3" lengthAdjust="spacingAndGlyphs">48815D(RH)</text>
<text x="112.3" y="70.0" class="m" textLength="60.3" lengthAdjust="spacingAndGlyphs">48815E(LH)</text>
<text x="67.3" y="120.5" class="m" textLength="30.2" lengthAdjust="spacingAndGlyphs">48811</text>
<text x="49.8" y="154.5" class="m" textLength="36.2" lengthAdjust="spacingAndGlyphs">48820A</text>
<text x="634.1" y="22.0" class="m" textLength="60.3" lengthAdjust="spacingAndGlyphs">48684A(RH)</text>
<text x="634.1" y="33.4" class="m" textLength="60.3" lengthAdjust="spacingAndGlyphs">48684B(LH)</text>
<text x="665.5" y="47.8" class="m" textLength="36.2" lengthAdjust="spacingAndGlyphs">48680A</text>
<text x="538.6" y="52.8" class="m" textLength="36.2" lengthAdjust="spacingAndGlyphs">48603A</text>
<text x="641.6" y="67.8" class="m" textLength="54.3" lengthAdjust="spacingAndGlyphs">48603(RH)</text>
<text x="641.6" y="79.0" class="m" textLength="54.3" lengthAdjust="spacingAndGlyphs">48609(LH)</text>
<text x="629.0" y="95.0" class="m" textLength="60.3" lengthAdjust="spacingAndGlyphs">48603C(RH)</text>
<text x="629.0" y="105.6" class="m" textLength="60.3" lengthAdjust="spacingAndGlyphs">48609D(LH)</text>
<text x="640.3" y="122.6" class="m" textLength="60.3" lengthAdjust="spacingAndGlyphs">48471B(RH)</text>
<text x="640.3" y="133.6" class="m" textLength="60.3" lengthAdjust="spacingAndGlyphs">48471C(LH)</text>
<text x="624.8" y="155.3" class="m" textLength="60.3" lengthAdjust="spacingAndGlyphs">48331B(RH)</text>
<text x="624.8" y="166.2" class="m" textLength="60.3" lengthAdjust="spacingAndGlyphs">48331C(LH)</text>
<text x="642.5" y="207.4" class="m" textLength="60.3" lengthAdjust="spacingAndGlyphs">48157B(RH)</text>
<text x="642.5" y="218.4" class="m" textLength="60.3" lengthAdjust="spacingAndGlyphs">48157C(LH)</text>
<text x="640.5" y="285.4" class="m" textLength="54.3" lengthAdjust="spacingAndGlyphs">48131(RH)</text>
<text x="640.5" y="295.6" class="m" textLength="54.3" lengthAdjust="spacingAndGlyphs">48132(LH)</text>
<text x="640.5" y="324.6" class="m" textLength="60.3" lengthAdjust="spacingAndGlyphs">48158B(RH)</text>
<text x="640.5" y="334.8" class="m" textLength="60.3" lengthAdjust="spacingAndGlyphs">48158C(LH)</text>
<text x="422.6" y="283.0" class="m" textLength="60.3" lengthAdjust="spacingAndGlyphs">48158B(RH)</text>
<text x="422.6" y="293.6" class="m" textLength="60.3" lengthAdjust="spacingAndGlyphs">48158C(LH)</text>
<text x="465.0" y="514.5" class="m" textLength="36.2" lengthAdjust="spacingAndGlyphs">48820A</text>
<text x="80.9" y="294.9" class="r" textLength="45.1" lengthAdjust="spacingAndGlyphs">REFER TO</text>
<text x="80.9" y="305.1" class="r" textLength="50.8" lengthAdjust="spacingAndGlyphs">FIG 51-02</text>
<text x="80.9" y="316.0" class="r" textLength="84.6" lengthAdjust="spacingAndGlyphs">(PNC 52255(RH))</text>
<text x="80.9" y="326.6" class="r" textLength="84.6" lengthAdjust="spacingAndGlyphs">(PNC 52256(LH))</text>
<text x="434.0" y="428.3" class="r" textLength="45.1" lengthAdjust="spacingAndGlyphs">REFER TO</text>
<text x="434.0" y="438.7" class="r" textLength="50.8" lengthAdjust="spacingAndGlyphs">FIG 48-02</text>
<text x="434.0" y="449.5" class="r" textLength="90.2" lengthAdjust="spacingAndGlyphs">(PNC 43211E(RH))</text>
<text x="434.0" y="459.7" class="r" textLength="90.2" lengthAdjust="spacingAndGlyphs">(PNC 43212D(LH))</text>
<text x="270.0" y="496.9" class="r" textLength="45.1" lengthAdjust="spacingAndGlyphs">REFER TO</text>
<text x="270.0" y="507.3" class="r" textLength="50.8" lengthAdjust="spacingAndGlyphs">FIG 48-02</text>
<text x="270.0" y="517.9" class="r" textLength="90.2" lengthAdjust="spacingAndGlyphs">(PNC 43211L(RH))</text>
<text x="270.0" y="528.6" class="r" textLength="90.2" lengthAdjust="spacingAndGlyphs">(PNC 43212E(LH))</text>
<text x="564.0" y="440.9" class="r" textLength="45.1" lengthAdjust="spacingAndGlyphs">REFER TO</text>
<text x="564.0" y="451.2" class="r" textLength="50.8" lengthAdjust="spacingAndGlyphs">FIG 48-02</text>
<text x="564.0" y="462.0" class="r" textLength="84.6" lengthAdjust="spacingAndGlyphs">(PNC 43211(RH))</text>
<text x="564.0" y="472.6" class="r" textLength="84.6" lengthAdjust="spacingAndGlyphs">(PNC 43212(LH))</text>
<text x="404.6" y="67.0" class="k9">※</text>
<text x="416.2" y="66.3" class="s8">1</text>
<text x="342.5" y="93.0" class="s9">(</text>
<text x="362.0" y="93.0" class="s9">−1207)</text>
<text x="434.0" y="93.5" class="s9">(1207−</text>
<text x="479.3" y="93.5" class="s9">)</text>
<text x="383.3" y="150.6" class="s8b">194</text>
<text x="474.8" y="155.6" class="s8b">235.5</text>
<text x="408.0" y="256.3" class="s9">(</text>
<text x="430.0" y="256.3" class="s9">−1207)</text>
<text x="625.4" y="208.2" class="k10">※</text>
<text x="635.6" y="207.0" class="b1">1</text>
<text x="625.4" y="219.6" class="k10">※</text>
<text x="635.6" y="218.6" class="b1">1</text>
<text x="753.5" y="543.0" class="s10">462842C</text>
<text x="718.4" y="188.3" class="m" textLength="54.3" lengthAdjust="spacingAndGlyphs">48510(RH)</text>
<text x="718.4" y="199.8" class="m" textLength="54.3" lengthAdjust="spacingAndGlyphs">48520(LH)</text>
</g>
<rect x="713.4" y="187.4" width="60.2" height="16.1" fill="none" style="stroke:#a50034" stroke-width="2.8"/>
</svg>
</body></html>
